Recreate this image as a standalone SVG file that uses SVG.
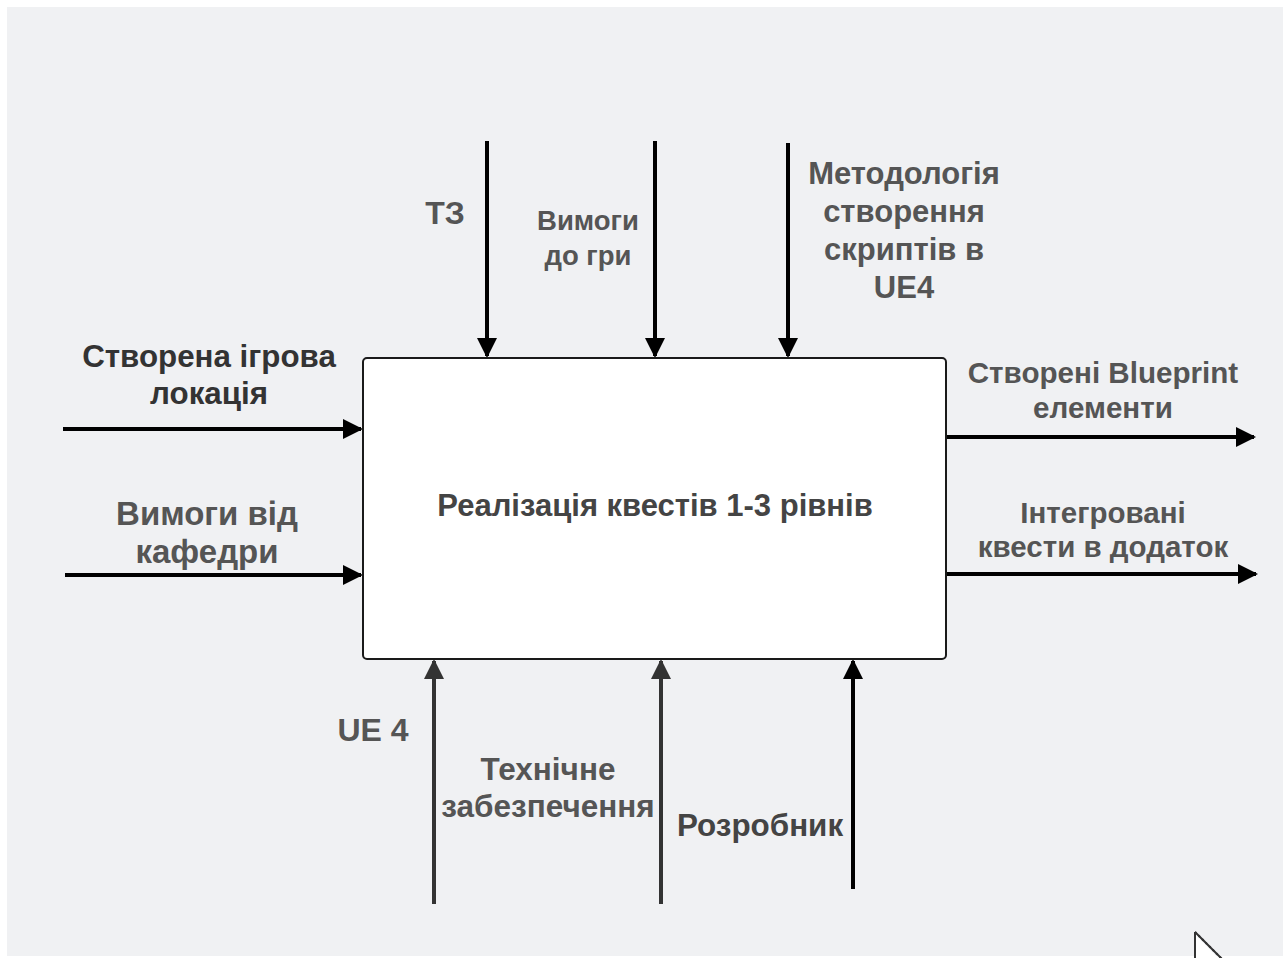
<svg xmlns="http://www.w3.org/2000/svg" width="1285" height="958" viewBox="0 0 1285 958">
  <style>
    .lbl { font-family: "Liberation Sans", Arial, sans-serif; font-weight: bold; text-anchor: middle; }
    .c3 { fill: #333333; }
    .c4 { fill: #444444; }
    .c5 { fill: #555555; }
    .arrow { stroke: #000000; stroke-width: 4; fill: none; }
    .arrow-g { stroke: #333333; stroke-width: 4; fill: none; }
  </style>
  <defs>
    <marker id="head" viewBox="0 0 10 10" refX="9" refY="5" markerWidth="5.5" markerHeight="5" orient="auto" markerUnits="strokeWidth">
      <path d="M0,0 L10,5 L0,10 z" fill="#000000"/>
    </marker>
    <marker id="head-g" viewBox="0 0 10 10" refX="9" refY="5" markerWidth="5.5" markerHeight="5" orient="auto" markerUnits="strokeWidth">
      <path d="M0,0 L10,5 L0,10 z" fill="#333333"/>
    </marker>
  </defs>

  <!-- canvas -->
  <rect x="0" y="0" width="1285" height="958" fill="#ffffff"/>
  <rect x="7" y="7" width="1276" height="949" fill="#f0f1f3"/>

  <!-- connectors -->
  <g id="connectors">
    <!-- controls (top) -->
    <line class="arrow" x1="487" y1="141" x2="487" y2="356" marker-end="url(#head)"/>
    <line class="arrow" x1="655" y1="141" x2="655" y2="356" marker-end="url(#head)"/>
    <line class="arrow" x1="788" y1="143" x2="788" y2="356" marker-end="url(#head)"/>
    <!-- inputs (left) -->
    <line class="arrow" x1="63" y1="429" x2="361" y2="429" marker-end="url(#head)"/>
    <line class="arrow" x1="65" y1="575" x2="361" y2="575" marker-end="url(#head)"/>
    <!-- outputs (right) -->
    <line class="arrow" x1="946" y1="437" x2="1254" y2="437" marker-end="url(#head)"/>
    <line class="arrow" x1="946" y1="574" x2="1256" y2="574" marker-end="url(#head)"/>
    <!-- mechanisms (bottom) -->
    <line class="arrow-g" x1="434" y1="904" x2="434" y2="661" marker-end="url(#head-g)"/>
    <line class="arrow-g" x1="661" y1="904" x2="661" y2="661" marker-end="url(#head-g)"/>
    <line class="arrow" x1="853" y1="889" x2="853" y2="661" marker-end="url(#head)"/>
  </g>

  <!-- activity box -->
  <g id="node-activity">
    <rect x="363" y="358" width="583" height="301" rx="4" ry="4" fill="#ffffff" stroke="#1a1a1a" stroke-width="2"/>
    <text class="lbl c4" x="655" y="516" font-size="31">Реалізація квестів 1-3 рівнів</text>
  </g>

  <!-- control labels -->
  <g id="ctrl-tz">
    <text class="lbl c5" x="445" y="224" font-size="32">ТЗ</text>
  </g>
  <g id="ctrl-game-req">
    <text class="lbl c5" x="588" y="230" font-size="27.5">Вимоги</text>
    <text class="lbl c5" x="588" y="265" font-size="27.5">до гри</text>
  </g>
  <g id="ctrl-method">
    <text class="lbl c5" x="904" y="184" font-size="31">Методологія</text>
    <text class="lbl c5" x="904" y="222" font-size="31">створення</text>
    <text class="lbl c5" x="904" y="260" font-size="31">скриптів в</text>
    <text class="lbl c5" x="904" y="298" font-size="31">UE4</text>
  </g>

  <!-- input labels -->
  <g id="in-location">
    <text class="lbl c3" x="209" y="367" font-size="31.3">Створена ігрова</text>
    <text class="lbl c3" x="209" y="404" font-size="31.3">локація</text>
  </g>
  <g id="in-dept-req">
    <text class="lbl c5" x="207" y="525" font-size="33">Вимоги від</text>
    <text class="lbl c5" x="207" y="563" font-size="33">кафедри</text>
  </g>

  <!-- output labels -->
  <g id="out-blueprint">
    <text class="lbl c5" x="1103" y="383" font-size="29.6">Створені Blueprint</text>
    <text class="lbl c5" x="1103" y="418" font-size="29.6">елементи</text>
  </g>
  <g id="out-integrated">
    <text class="lbl c5" x="1103" y="523" font-size="29.5">Інтегровані</text>
    <text class="lbl c5" x="1103" y="557" font-size="29.5">квести в додаток</text>
  </g>

  <!-- mechanism labels -->
  <g id="mech-ue4">
    <text class="lbl c5" x="373" y="741" font-size="32">UE 4</text>
  </g>
  <g id="mech-hardware">
    <text class="lbl c5" x="548" y="780" font-size="31.5">Технічне</text>
    <text class="lbl c5" x="548" y="817" font-size="31.5">забезпечення</text>
  </g>
  <g id="mech-developer">
    <text class="lbl c4" x="760" y="836" font-size="31.4">Розробник</text>
  </g>

  <!-- pointer -->
  <path d="M1195,932 L1195,962 M1195,932 L1225,962" stroke="#333333" stroke-width="2" fill="none"/>
  <path d="M1196,935 L1196,962 L1222,962 z" fill="#ffffff"/>
  <path d="M1195,932 L1225,962" stroke="#333333" stroke-width="2" stroke-dasharray="2 3" fill="none"/>
</svg>
